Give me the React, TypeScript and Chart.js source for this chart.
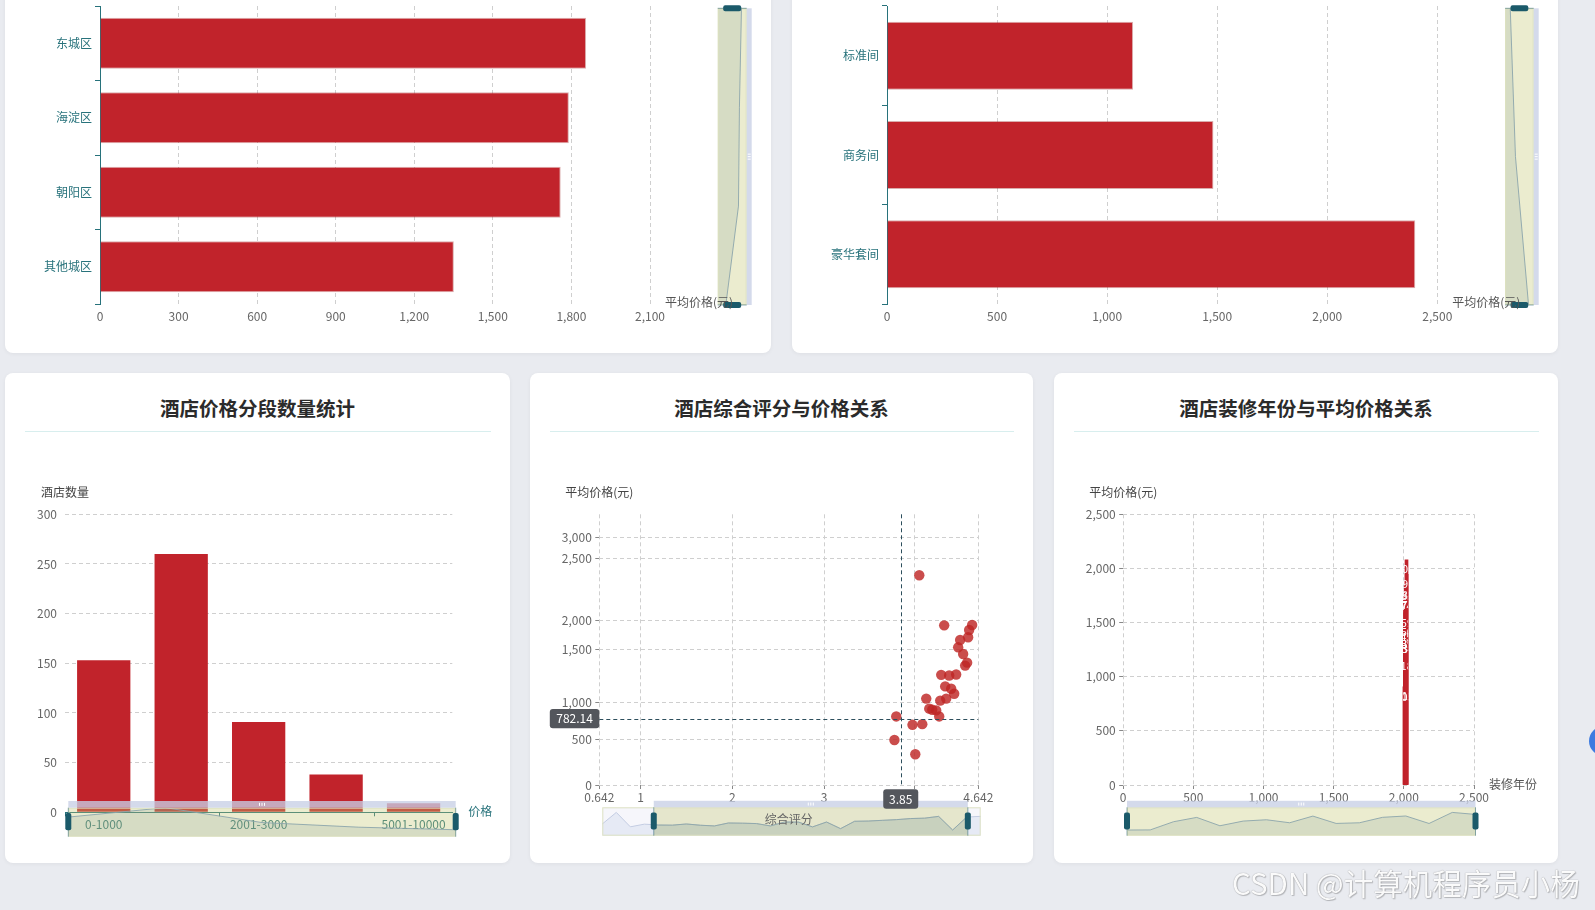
import React, { useEffect, useRef } from 'react';
import { Chart, registerables, LinearScale } from 'chart.js';

Chart.register(...registerables);

// ---------------- data ----------------
const districtNames = ['东城区', '海淀区', '朝阳区', '其他城区'];
const districtAvgPrice = [1856, 1790, 1759, 1351];
const districtPriceTicks = [0, 300, 600, 900, 1200, 1500, 1800, 2100];

const roomTypes = ['标准间', '商务间', '豪华套间'];
const roomAvgPrice = [1118, 1483, 2400];
const roomPriceTicks = [0, 500, 1000, 1500, 2000, 2500];

const priceBands = ['0-1000', '1001-2000', '2001-3000', '3001-5000', '5001-10000'];
const hotelCounts = [153, 260, 91, 38, 9];
const countTicks = [0, 50, 100, 150, 200, 250, 300];

const ratingScores = [4.12, 4.05, 4.08, 4.26, 4.15, 4.18, 4.32, 4.22, 4.25, 4.31, 4.37, 4.4, 3.8, 4.27, 4.35, 3.98, 4.42, 3.78, 4.51, 4.53, 4.49, 4.44, 4.46, 4.54, 4.3, 4.01, 4.55, 4.58];
const ratingPrices = [1035, 2365, 708, 1016, 915, 901, 1035, 892, 811, 1150, 1128, 1081, 811, 1259, 1253, 699, 1262, 497, 1346, 1374, 1456, 1534, 1659, 1705, 1909, 340, 1829, 1915];
const ratingTicks = [0.642, 1, 2, 3, 4, 4.642];
const ratingPriceTicks = [0, 500, 1000, 1500, 2000, 2500, 3000];
const pointerScore = 3.85;
const pointerPrice = 782.14;

const renovationYears = [2005, 2006, 2007, 2008, 2009, 2010, 2011, 2012, 2013, 2014, 2015, 2016, 2017, 2018, 2019, 2020];
const renovationPrices = [905, 912, 1457, 1746, 1189, 1501, 1590, 1390, 1835, 1345, 1388, 1752, 1841, 1342, 2080, 1946];
const yearTicks = [0, 500, 1000, 1500, 2000, 2500];
const renovationPriceTicks = [0, 500, 1000, 1500, 2000, 2500];

// ---------------- styles ----------------
const FONT = "'Microsoft YaHei', 'Noto Sans CJK SC', 'Noto Sans', sans-serif";
const RED = '#C1232B';
const TEAL = '#27727B';
const GRID = '#cfcfcf';
const LABEL = '#666';
const DASH = [4, 3];

Chart.defaults.font.family = FONT;
Chart.defaults.font.size = 12;
Chart.defaults.color = LABEL;

const fmt = (v: any) => Number(v).toLocaleString('en-US');
const tickList = (arr: number[]) => (s: any) => {
  s.ticks = arr.map((v) => ({ value: v }));
};

// piecewise axis (the reference axis is not evenly spaced)
function warpForward(w: number[][], v: number) {
  let i = 1;
  while (i < w.length - 1 && v > w[i][0]) i++;
  const [v0, f0] = w[i - 1];
  const [v1, f1] = w[i];
  return f0 + ((v - v0) / (v1 - v0)) * (f1 - f0);
}
function warpInverse(w: number[][], f: number) {
  let i = 1;
  while (i < w.length - 1 && f > w[i][1]) i++;
  const [v0, f0] = w[i - 1];
  const [v1, f1] = w[i];
  return v0 + ((f - f0) / (f1 - f0)) * (v1 - v0);
}
class WarpScale extends LinearScale {
  static id = 'warp';
  static defaults = { ticks: { callback: (v: any) => String(v) } };
  buildTicks() {
    const self: any = this;
    self.start = self.min;
    self.end = self.max;
    const vals = (self.options.tickValues || []) as number[];
    return vals.map((v) => ({ value: v }));
  }
  getPixelForValue(value: any) {
    if (value === null || value === undefined || isNaN(value)) return NaN;
    const self: any = this;
    return self.getPixelForDecimal(warpForward(self.options.warp, value));
  }
  getValueForPixel(pixel: number) {
    const self: any = this;
    return warpInverse(self.options.warp, self.getDecimalForPixel(pixel));
  }
}
Chart.register(WarpScale as any);

// ---------------- drawing helpers ----------------
function rr(ctx: CanvasRenderingContext2D, x: number, y: number, w: number, h: number, r: number) {
  ctx.beginPath();
  ctx.moveTo(x + r, y);
  ctx.arcTo(x + w, y, x + w, y + h, r);
  ctx.arcTo(x + w, y + h, x, y + h, r);
  ctx.arcTo(x, y + h, x, y, r);
  ctx.arcTo(x, y, x + w, y, r);
  ctx.closePath();
}

function txt(ctx: CanvasRenderingContext2D, s: string, x: number, y: number, align: CanvasTextAlign, color: string, size = 12) {
  ctx.save();
  ctx.font = `${size}px ${FONT}`;
  ctx.fillStyle = color;
  ctx.textAlign = align;
  ctx.textBaseline = 'middle';
  ctx.fillText(s, x, y);
  ctx.restore();
}

type SliderCfg = { orient: 'h' | 'v'; x: number; y: number; w: number; h: number; start?: number; end?: number; lo?: number; hi?: number; strip?: number };

function drawSlider(ctx: CanvasRenderingContext2D, cfg: SliderCfg, values: number[]) {
  const { orient, x, y, w, h } = cfg;
  const s = cfg.start ?? 0;
  const e = cfg.end ?? 1;
  const lo = cfg.lo ?? 0.2;
  const hi = cfg.hi ?? 0.82;
  const strip = cfg.strip ?? 6.5;
  const partial = s > 0 || e < 1;
  const mn = Math.min(...values);
  const mx = Math.max(...values);
  const n = values.length;
  const fr = (v: number) => lo + (hi - lo) * (mx > mn ? (v - mn) / (mx - mn) : 0.5);
  const pts = values.map((v, i) => {
    const t = n > 1 ? i / (n - 1) : 0.5;
    return orient === 'h' ? [x + t * w, y + h - fr(v) * h] : [x + fr(v) * w, y + t * h];
  });
  const area = () => {
    ctx.beginPath();
    if (orient === 'h') ctx.moveTo(x, y + h);
    else ctx.moveTo(x, y);
    pts.forEach((p) => ctx.lineTo(p[0], p[1]));
    if (orient === 'h') ctx.lineTo(x + w, y + h);
    else ctx.lineTo(x, y + h);
    ctx.closePath();
  };
  const line = () => {
    ctx.beginPath();
    pts.forEach((p, i) => (i ? ctx.lineTo(p[0], p[1]) : ctx.moveTo(p[0], p[1])));
  };
  ctx.save();
  ctx.lineWidth = 1;
  if (partial) {
    ctx.fillStyle = 'rgba(244,245,250,0.85)';
    ctx.fillRect(x, y, w, h);
    area();
    ctx.fillStyle = 'rgba(210,219,238,0.45)';
    ctx.fill();
    line();
    ctx.strokeStyle = 'rgba(195,204,226,1)';
    ctx.stroke();
  }

  const sel = orient === 'h' ? [x + s * w, y, (e - s) * w, h] : [x, y + s * h, w, (e - s) * h];
  ctx.save();
  ctx.beginPath();
  ctx.rect(sel[0], sel[1], sel[2], sel[3]);
  ctx.clip();
  ctx.fillStyle = 'rgba(195,200,115,0.34)';
  ctx.fillRect(sel[0], sel[1], sel[2], sel[3]);
  area();
  ctx.fillStyle = 'rgba(110,145,140,0.17)';
  ctx.fill();
  line();
  ctx.strokeStyle = 'rgba(140,165,172,0.9)';
  ctx.stroke();
  ctx.restore();

  ctx.strokeStyle = 'rgba(220,224,190,0.9)';
  ctx.strokeRect(x + 0.5, y + 0.5, w - 1, h - 1);

  ctx.fillStyle = 'rgba(200,208,230,0.78)';
  if (orient === 'h') {
    ctx.fillRect(sel[0], y - strip, sel[2], strip);
    const cx = sel[0] + sel[2] / 2;
    const cy = y - strip / 2;
    ctx.fillStyle = '#fff';
    for (let k = -1; k <= 1; k++) ctx.fillRect(cx + k * 2.5 - 0.5, cy - 1.5, 1, 3);
  } else {
    ctx.fillRect(x + w, sel[1], strip, sel[3]);
    const cx = x + w + strip / 2;
    const cy = sel[1] + sel[3] / 2;
    ctx.fillStyle = '#fff';
    for (let k = -1; k <= 1; k++) ctx.fillRect(cx - 1.5, cy + k * 2.5 - 0.5, 3, 1);
  }

  if (orient === 'h') {
    [sel[0], sel[0] + sel[2]].forEach((hx) => {
      ctx.fillStyle = 'rgba(27,90,106,0.5)';
      ctx.fillRect(hx - 0.5, y, 1, h);
      rr(ctx, hx - 3, y + h * 0.18, 6, h * 0.6, 2);
      ctx.fillStyle = '#1b5a6a';
      ctx.fill();
    });
  } else {
    [sel[1], sel[1] + sel[3]].forEach((hy) => {
      ctx.fillStyle = 'rgba(27,90,106,0.5)';
      ctx.fillRect(x, hy - 0.5, w, 1);
      rr(ctx, x + w * 0.19, hy - 3, w * 0.62, 6, 2);
      ctx.fillStyle = '#1b5a6a';
      ctx.fill();
    });
  }
  ctx.restore();
}

const deco = (fn: (chart: any, ctx: CanvasRenderingContext2D) => void) => ({
  id: 'deco',
  afterDraw(chart: any) {
    fn(chart, chart.ctx);
  },
});

const baseOptions = {
  animation: false,
  responsive: false,
  maintainAspectRatio: false,
  events: [],
  plugins: { legend: { display: false }, tooltip: { enabled: false } },
};

// ---------------- chart configs ----------------
function hBarConfig(labels: string[], values: number[], ticks: number[], slider: SliderCfg, padRight: number) {
  return {
    type: 'bar',
    data: {
      labels,
      datasets: [{ data: values, backgroundColor: RED, borderColor: 'rgba(150,20,20,0.35)', borderWidth: 1, categoryPercentage: 0.8, barPercentage: 0.855 }],
    },
    options: {
      ...baseOptions,
      indexAxis: 'y',
      layout: { padding: { left: 0, top: 6, right: padRight, bottom: 0 } },
      scales: {
        x: {
          type: 'linear',
          min: ticks[0],
          max: ticks[ticks.length - 1],
          afterBuildTicks: tickList(ticks),
          afterFit: (s: any) => {
            s.height = 49;
          },
          ticks: { color: LABEL, padding: 5, callback: fmt, maxRotation: 0, autoSkip: false },
          grid: { color: GRID, drawTicks: false },
          border: { display: false, dash: DASH },
        },
        y: {
          afterFit: (s: any) => {
            s.width = 95;
            s.paddingTop = 0;
            s.paddingBottom = 0;
          },
          ticks: { color: TEAL, padding: 3 },
          grid: { drawOnChartArea: false, color: TEAL, tickLength: 5, offset: true },
          border: { color: TEAL },
        },
      },
    },
    plugins: [
      deco((chart, ctx) => {
        const a = chart.chartArea;
        drawSlider(ctx, slider, values);
        txt(ctx, '平均价格(元)', a.right + 15, a.bottom - 2, 'left', '#555');
      }),
    ],
  };
}

function countConfig() {
  return {
    type: 'bar',
    data: {
      labels: priceBands,
      datasets: [{ data: hotelCounts, backgroundColor: RED, categoryPercentage: 0.8, barPercentage: 0.86 }],
    },
    options: {
      ...baseOptions,
      layout: { padding: { left: 0, top: 141.3, right: 57.7, bottom: 0 } },
      scales: {
        x: {
          afterFit: (s: any) => {
            s.height = 50.7;
          },
          ticks: {
            color: TEAL,
            padding: 1,
            autoSkip: false,
            maxRotation: 0,
            callback: (_v: any, i: number) => (i % 2 === 0 ? priceBands[i] : ''),
          },
          grid: {
            drawOnChartArea: false,
            tickLength: 4,
            offset: true,
            color: (c: any) => (c.index % 2 === 0 ? TEAL : 'rgba(0,0,0,0)'),
          },
          border: { color: TEAL },
        },
        y: {
          min: 0,
          max: 300,
          afterBuildTicks: tickList(countTicks),
          afterFit: (s: any) => {
            s.width = 60;
          },
          ticks: { color: LABEL, padding: 8 },
          grid: { color: GRID, drawTicks: false },
          border: { display: false, dash: DASH },
        },
      },
    },
    plugins: [
      deco((chart, ctx) => {
        const a = chart.chartArea;
        drawSlider(ctx, { orient: 'h', x: 63.3, y: 434.7, w: 387.4, h: 29, lo: 0.24, hi: 1, strip: 6.7 }, hotelCounts);
        txt(ctx, '酒店数量', a.left, a.top - 22, 'center', '#444');
        txt(ctx, '价格', a.right + 16, a.bottom - 1, 'left', TEAL);
      }),
    ],
  };
}

function ratingConfig() {
  return {
    type: 'scatter',
    data: {
      datasets: [
        {
          data: ratingScores.map((x, i) => ({ x, y: ratingPrices[i] })),
          backgroundColor: 'rgba(190,38,36,0.82)',
          borderWidth: 0,
          pointRadius: 5.2,
        },
      ],
    },
    options: {
      ...baseOptions,
      layout: { padding: { left: 0, top: 141.3, right: 54.7, bottom: 0 } },
      scales: {
        x: {
          type: 'warp',
          min: 0.642,
          max: 4.642,
          tickValues: ratingTicks,
          warp: [
            [0.642, 0],
            [1, 0.1092],
            [2, 0.3509],
            [3, 0.5929],
            [4, 0.8311],
            [4.642, 1],
          ],
          afterFit: (s: any) => {
            s.height = 78;
          },
          ticks: { color: LABEL, padding: 1.5, autoSkip: false, maxRotation: 0, callback: (v: any) => String(v) },
          grid: { color: GRID, tickLength: 4, tickColor: '#888' },
          border: { display: false, dash: DASH },
        },
        y: {
          type: 'warp',
          min: 0,
          max: 3300,
          tickValues: ratingPriceTicks,
          warp: [
            [0, 0],
            [500, 0.1673],
            [1000, 0.3055],
            [1500, 0.5013],
            [2000, 0.6095],
            [2500, 0.836],
            [3000, 0.9135],
            [3300, 1],
          ],
          afterFit: (s: any) => {
            s.width = 69.3;
          },
          ticks: { color: LABEL, padding: 3.5, autoSkip: false, callback: fmt },
          grid: { color: GRID, tickLength: 4, tickColor: '#888' },
          border: { display: false, dash: DASH },
        },
      },
    },
    plugins: [
      deco((chart, ctx) => {
        const a = chart.chartArea;
        const xs = chart.scales.x;
        const ys = chart.scales.y;
        const px = xs.getPixelForValue(pointerScore);
        const py = ys.getPixelForValue(pointerPrice);
        ctx.save();
        ctx.strokeStyle = '#2c4e5c';
        ctx.lineWidth = 1;
        ctx.setLineDash([4, 3]);
        ctx.beginPath();
        ctx.moveTo(Math.round(px) + 0.5, a.top);
        ctx.lineTo(Math.round(px) + 0.5, a.bottom);
        ctx.moveTo(a.left, Math.round(py) + 0.5);
        ctx.lineTo(a.right, Math.round(py) + 0.5);
        ctx.stroke();
        ctx.restore();

        drawSlider(ctx, { orient: 'h', x: 72.3, y: 434.3, w: 378.4, h: 28.4, start: 0.136, end: 0.966, strip: 6.5 }, ratingPrices);
        txt(ctx, '综合评分', (a.left + a.right) / 2, a.bottom + 34, 'center', '#666');
        txt(ctx, '平均价格(元)', a.left, a.top - 22, 'center', '#444');

        ctx.save();
        ctx.fillStyle = '#53565c';
        rr(ctx, a.left - 49.5, py - 9.7, 49.5, 19.4, 3);
        ctx.fill();
        rr(ctx, px - 17.5, a.bottom + 4.3, 35, 19.4, 3);
        ctx.fill();
        ctx.restore();
        txt(ctx, String(pointerPrice), a.left - 24.7, py, 'center', '#fff');
        txt(ctx, String(pointerScore), px, a.bottom + 14, 'center', '#fff');
      }),
    ],
  };
}

function renovationConfig() {
  return {
    type: 'bar',
    data: {
      datasets: [
        {
          data: renovationYears.map((x, i) => ({ x, y: renovationPrices[i] })),
          backgroundColor: RED,
          barThickness: 3,
        },
      ],
    },
    options: {
      ...baseOptions,
      layout: { padding: { left: 0, top: 141.3, right: 84, bottom: 0 } },
      scales: {
        x: {
          type: 'linear',
          min: 0,
          max: 2500,
          offset: false,
          afterBuildTicks: tickList(yearTicks),
          afterFit: (s: any) => {
            s.height = 78;
          },
          ticks: { color: LABEL, padding: 1.5, autoSkip: false, maxRotation: 0, callback: fmt },
          grid: { color: GRID, tickLength: 4, tickColor: '#888', offset: false },
          border: { display: false, dash: DASH },
        },
        y: {
          min: 0,
          max: 2500,
          afterBuildTicks: tickList(renovationPriceTicks),
          afterFit: (s: any) => {
            s.width = 69.2;
          },
          ticks: { color: LABEL, padding: 3.5, callback: fmt },
          grid: { color: GRID, tickLength: 4, tickColor: '#888' },
          border: { display: false, dash: DASH },
        },
      },
    },
    plugins: [
      {
        id: 'barLabels',
        afterDatasetsDraw(chart: any) {
          const ctx = chart.ctx as CanvasRenderingContext2D;
          const meta = chart.getDatasetMeta(0);
          const xs = meta.data.map((el: any) => el.x);
          const x0 = Math.min(...xs) - 1.5;
          const x1 = Math.max(...xs) + 1.5;
          ctx.save();
          ctx.beginPath();
          ctx.rect(x0, chart.chartArea.top, x1 - x0, chart.chartArea.bottom - chart.chartArea.top);
          ctx.clip();
          ctx.fillStyle = '#fff';
          ctx.font = `11px ${FONT}`;
          ctx.textAlign = 'center';
          ctx.textBaseline = 'top';
          meta.data.forEach((el: any, i: number) => ctx.fillText(fmt(renovationPrices[i]), el.x, el.y + 4));
          ctx.restore();
        },
      },
      deco((chart, ctx) => {
        const a = chart.chartArea;
        drawSlider(ctx, { orient: 'h', x: 73, y: 434.3, w: 348.5, h: 28.4, strip: 6.5 }, renovationPrices);
        txt(ctx, '平均价格(元)', a.left, a.top - 22, 'center', '#444');
        txt(ctx, '装修年份', a.right + 15, a.bottom - 1, 'left', '#555');
      }),
    ],
  };
}

// ---------------- components ----------------
function ChartCanvas({ left, top, width, height, config }: { left: number; top: number; width: number; height: number; config: () => any }) {
  const ref = useRef<HTMLCanvasElement | null>(null);
  useEffect(() => {
    const chart = new Chart(ref.current as HTMLCanvasElement, config());
    return () => chart.destroy();
  }, []);
  return (
    <canvas
      ref={ref}
      width={width}
      height={height}
      style={{ position: 'absolute', left, top, width, height, display: 'block' }}
    />
  );
}

function Card({ left, top, width, height, title }: { left: number; top: number; width: number; height: number; title?: string }) {
  return (
    <div
      style={{
        position: 'absolute',
        left,
        top,
        width,
        height,
        background: '#fff',
        borderRadius: 8,
        boxShadow: '0 1px 4px rgba(0,0,0,0.05)',
      }}
    >
      {title ? (
        <>
          <div
            style={{
              position: 'absolute',
              left: 0,
              right: 0,
              top: 23,
              height: 24,
              lineHeight: '24px',
              textAlign: 'center',
              fontSize: 19.5,
              fontWeight: 'bold',
              color: '#2b2b2b',
              fontFamily: FONT,
            }}
          >
            {title}
          </div>
          <div style={{ position: 'absolute', left: 19.5, right: 19.5, top: 58, height: 1, background: '#d8eeee' }} />
        </>
      ) : null}
    </div>
  );
}

export default function App() {
  return (
    <div
      style={{
        position: 'fixed',
        left: 0,
        top: 0,
        width: 1595,
        height: 910,
        background: '#e9ebf0',
        overflow: 'hidden',
        fontFamily: FONT,
      }}
    >
      <Card left={5} top={-30} width={766} height={383} />
      <Card left={792} top={-30} width={766} height={383} />
      <Card left={5} top={373} width={505} height={490} title="酒店价格分段数量统计" />
      <Card left={530} top={373} width={503} height={490} title="酒店综合评分与价格关系" />
      <Card left={1054} top={373} width={504} height={490} title="酒店装修年份与平均价格关系" />

      <ChartCanvas
        left={5}
        top={0}
        width={766}
        height={353}
        config={() =>
          hBarConfig(districtNames, districtAvgPrice, districtPriceTicks, { orient: 'v', x: 712.7, y: 8.3, w: 29, h: 296.7, strip: 5, lo: 0.28, hi: 0.82 }, 121)
        }
      />
      <ChartCanvas
        left={792}
        top={0}
        width={766}
        height={353}
        config={() =>
          hBarConfig(roomTypes, roomAvgPrice, roomPriceTicks, { orient: 'v', x: 713.1, y: 8.3, w: 28.6, h: 296.7, strip: 5, lo: 0.18, hi: 0.82 }, 120.7)
        }
      />
      <ChartCanvas left={5} top={373} width={505} height={490} config={countConfig} />
      <ChartCanvas left={530} top={373} width={503} height={490} config={ratingConfig} />
      <ChartCanvas left={1054} top={373} width={504} height={490} config={renovationConfig} />

      <div
        style={{
          position: 'absolute',
          left: 1589,
          top: 726,
          width: 30,
          height: 30,
          borderRadius: 15,
          background: '#3d7be0',
        }}
      />
      <div
        style={{
          position: 'absolute',
          left: 1232,
          top: 863,
          fontSize: 29.5,
          lineHeight: '38px',
          whiteSpace: 'nowrap',
          color: 'rgba(255,255,255,0.96)',
          textShadow: '0 0 1px rgba(0,0,0,0.45), 1px 1px 1px rgba(0,0,0,0.2)',
          fontFamily: "'Noto Sans CJK SC', sans-serif",
        }}
      >
        CSDN @计算机程序员小杨
      </div>
    </div>
  );
}
